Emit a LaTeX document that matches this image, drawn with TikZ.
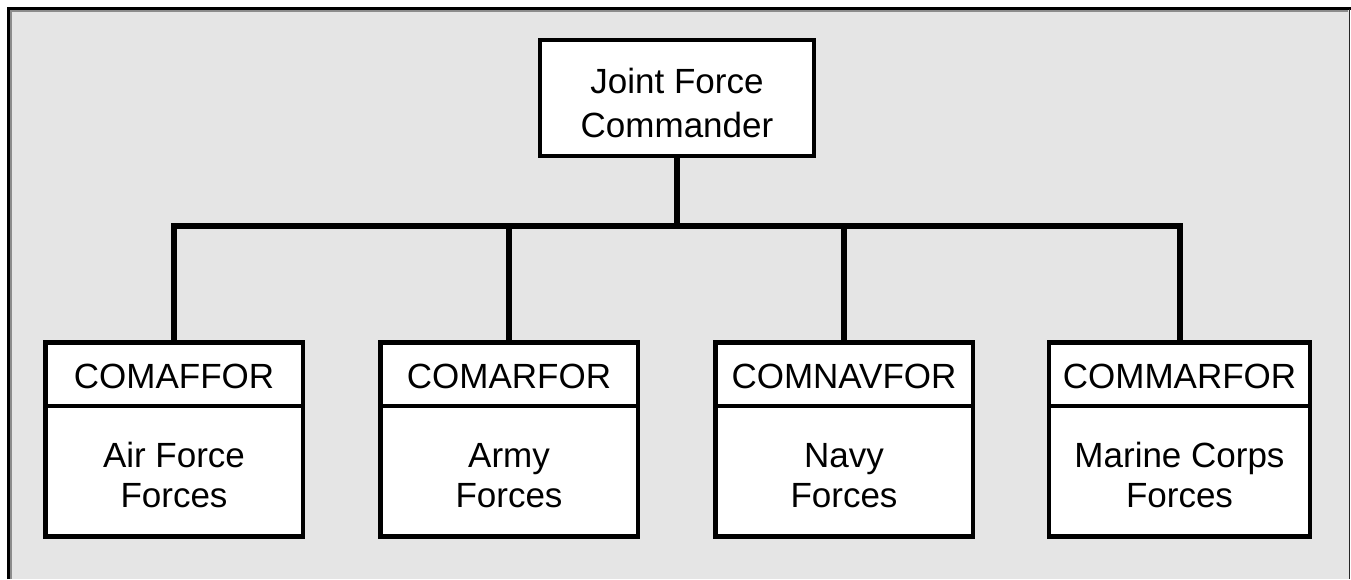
\documentclass[tikz,border=0pt]{standalone}
\usepackage{fontspec}
\setmainfont{Liberation Sans}
\definecolor{bggray}{HTML}{E5E5E5}
\definecolor{edgegray}{HTML}{8C8C8C}
\tikzset{
  box/.style={draw=black, fill=white, line width=4.5pt, inner sep=0pt, align=center},
  topbox/.style={box, font=\fontsize{35}{44}\selectfont, minimum width=274pt, minimum height=116pt, text height=78pt, text depth=0pt},
  headbox/.style={box, font=\fontsize{35}{40}\selectfont, minimum height=63.5pt, text height=27.5pt, text depth=0pt},
  bodybox/.style={box, font=\fontsize{35}{40}\selectfont, minimum height=130.5pt, text height=71.5pt, text depth=0pt},
  conn/.style={draw=black, line width=6pt, line join=miter}
}
\begin{document}
\begin{tikzpicture}[x=1pt,y=-1pt]
\useasboundingbox (0,0) rectangle (1351,579);
\fill[white] (0,0) rectangle (1351,579);
\fill[bggray] (8.5,8.5) rectangle (1349.5,579);
\draw[edgegray, line width=1.2pt] (11,579) -- (11,11) -- (1348,11);
\draw[black, line width=3pt] (8.5,579) -- (8.5,8.5) -- (1351,8.5);
\draw[black!85, line width=1.5pt] (1349.5,8.5) -- (1349.5,579);

\node[topbox] (top) at (677,98) {Joint Force\\Commander};

\node[headbox, minimum width=257.5pt] (h1) at (174,374.25) {COMAFFOR};
\node[bodybox, minimum width=257.5pt] (b1) at (174,471.25) {Air Force\\Forces};
\node[headbox, minimum width=257.5pt] (h2) at (509,374.25) {COMARFOR};
\node[bodybox, minimum width=257.5pt] (b2) at (509,471.25) {Army\\Forces};
\node[headbox, minimum width=257.5pt] (h3) at (844,374.25) {COMNAVFOR};
\node[bodybox, minimum width=257.5pt] (b3) at (844,471.25) {Navy\\Forces};
\node[headbox, minimum width=261pt] (h4) at (1179.5,374.25) {COMMARFOR};
\node[bodybox, minimum width=261pt] (b4) at (1179.5,471.25) {Marine Corps\\Forces};

\coordinate (bar) at (677,225.5);
\draw[conn] (top.south) -- (bar);
\draw[conn] (h1.north) |- (bar) -| (h4.north);
\draw[conn] (h2.north) -- (h2.north |- bar);
\draw[conn] (h3.north) -- (h3.north |- bar);
\end{tikzpicture}
\end{document}
